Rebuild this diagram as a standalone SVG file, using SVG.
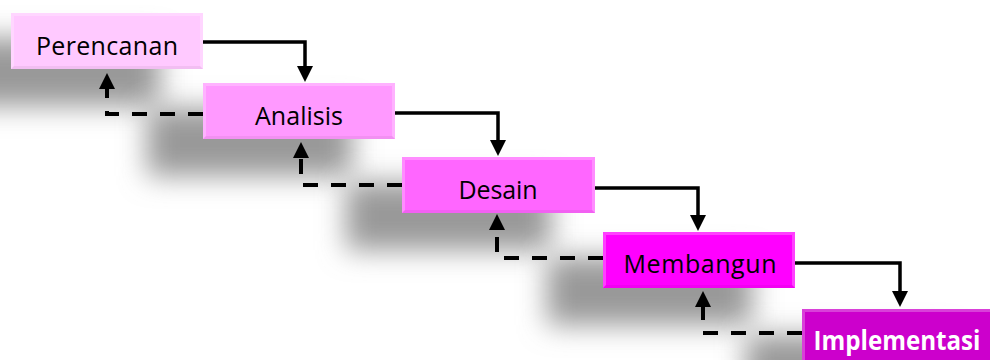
<svg xmlns="http://www.w3.org/2000/svg" width="990" height="360" viewBox="0 0 990 360">
<defs>
<filter id="blur" x="-40%" y="-80%" width="180%" height="260%"><feGaussianBlur stdDeviation="14"/></filter>
<marker id="ah" markerUnits="userSpaceOnUse" markerWidth="16" markerHeight="16" viewBox="0 0 16 16" refX="1" refY="8" orient="auto"><path d="M0,0 L16,8 L0,16 z" fill="#000"/></marker>
</defs>
<style>
.shadow{fill:#999;filter:url(#blur)}
.lbl{font-family:"Open Sans","Noto Sans","Liberation Sans",sans-serif;font-size:25px;fill:#000;text-anchor:middle}
.lblw{font-family:"Open Sans","Noto Sans","Liberation Sans",sans-serif;font-size:26px;font-weight:bold;fill:#fff;text-anchor:middle}
.hl{fill:#fff;opacity:0.25}
.dk{fill:#000;opacity:0.05}
.solid{fill:none;stroke:#000;stroke-width:3.5;marker-end:url(#ah)}
.dash{fill:none;stroke:#000;stroke-width:4;stroke-dasharray:15 13;marker-end:url(#ah)}
</style>
<rect width="990" height="360" fill="#fff"/>
<g id="shadows">
<rect class="shadow" x="-45" y="38" width="205" height="68"/>
<rect class="shadow" x="147" y="108" width="205" height="68"/>
<rect class="shadow" x="346" y="182" width="205" height="68"/>
<rect class="shadow" x="547" y="257" width="205" height="68"/>
<rect class="shadow" x="746" y="335" width="205" height="68"/>
</g>
<g id="connectors">
<path class="solid" d="M203,42 H305 V67"/>
<path class="solid" d="M395,113 H498 V141"/>
<path class="solid" d="M595,188 H698 V216"/>
<path class="solid" d="M795,263 H900 V292"/>
<path class="dash" d="M203,114 H107 V88"/>
<path class="dash" d="M402,185 H301 V157"/>
<path class="dash" d="M603,258 H497 V229"/>
<path class="dash" d="M802,333 H703 V306"/>
</g>
<g id="perencanan">
<rect x="11" y="13" width="192" height="56" fill="#FFC9FF"/>
<polygon class="hl" points="11,13 203,13 200,16 14,16"/>
<polygon class="hl" points="11,13 14,16 14,66 11,69"/>
<polygon class="hl" points="203,13 200,16 200,66 203,69"/>
<polygon class="dk" points="11,69 203,69 200,66 14,66"/>
<text class="lbl" x="107" y="55" textLength="142" lengthAdjust="spacing">Perencanan</text>
</g>
<g id="analisis">
<rect x="203" y="83" width="192" height="56" fill="#FF99FF"/>
<polygon class="hl" points="203,83 395,83 392,86 206,86"/>
<polygon class="hl" points="203,83 206,86 206,136 203,139"/>
<polygon class="hl" points="395,83 392,86 392,136 395,139"/>
<polygon class="dk" points="203,139 395,139 392,136 206,136"/>
<text class="lbl" x="299" y="125" textLength="88" lengthAdjust="spacing">Analisis</text>
</g>
<g id="desain">
<rect x="402" y="157" width="193" height="56" fill="#FF66FF"/>
<polygon class="hl" points="402,157 595,157 592,160 405,160"/>
<polygon class="hl" points="402,157 405,160 405,210 402,213"/>
<polygon class="hl" points="595,157 592,160 592,210 595,213"/>
<polygon class="dk" points="402,213 595,213 592,210 405,210"/>
<text class="lbl" x="498" y="199" textLength="79" lengthAdjust="spacing">Desain</text>
</g>
<g id="membangun">
<rect x="603" y="232" width="192" height="56" fill="#FF00FF"/>
<polygon class="hl" points="603,232 795,232 792,235 606,235"/>
<polygon class="hl" points="603,232 606,235 606,285 603,288"/>
<polygon class="hl" points="795,232 792,235 792,285 795,288"/>
<polygon class="dk" points="603,288 795,288 792,285 606,285"/>
<text class="lbl" x="700" y="273" textLength="153" lengthAdjust="spacing">Membangun</text>
</g>
<g id="implementasi">
<rect x="802" y="309" width="192" height="56" fill="#CC00CC"/>
<polygon class="hl" points="802,309 994,309 991,312 805,312"/>
<polygon class="hl" points="802,309 805,312 805,362 802,365"/>
<text class="lblw" x="897" y="350" textLength="167" lengthAdjust="spacingAndGlyphs">Implementasi</text>
</g>
</svg>
